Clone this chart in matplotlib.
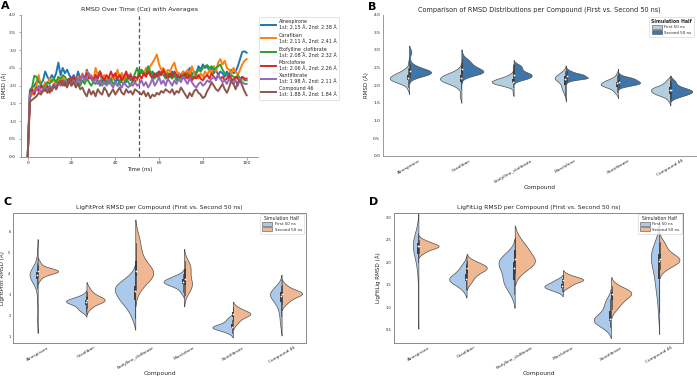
import numpy as np
import matplotlib
matplotlib.use("Agg")
import matplotlib.pyplot as plt
from matplotlib.patches import Patch

plt.rcParams["font.family"] = ["DejaVu Sans"]
plt.rcParams["text.color"] = "#262626"
plt.rcParams["axes.labelcolor"] = "#262626"
plt.rcParams["xtick.color"] = "#262626"
plt.rcParams["ytick.color"] = "#262626"

# ---------------- data ----------------
compounds = ["Alnespirone", "Carafiban", "Etofylline_clofibrate",
             "Morclofone", "Xantifibrate", "Compound 46"]
time_ns = list(range(0, 101))

rmsd_alnespirone = [
    0.0, 1.88, 1.95, 2.00, 2.10, 2.20, 2.05, 2.15, 2.40, 2.25, 2.15,
    2.30, 2.20, 2.35, 2.65, 2.30, 2.50, 2.35, 2.45, 2.30, 2.20,
    2.30, 2.15, 2.40, 2.20, 2.30, 2.15, 2.45, 2.25, 2.20, 2.10,
    2.30, 2.20, 2.40, 2.10, 2.20, 2.05, 2.25, 2.15, 2.30, 2.10,
    2.20, 2.05, 2.35, 2.20, 2.10, 2.30, 2.15, 2.25, 2.10, 2.20,
    2.45, 2.35, 2.40, 2.30, 2.45, 2.30, 2.40, 2.25, 2.35, 2.40,
    2.30, 2.45, 2.30, 2.35, 2.25, 2.40, 2.30, 2.20, 2.35, 2.30,
    2.40, 2.25, 2.35, 2.50, 2.30, 2.40, 2.35, 2.55, 2.45, 2.60,
    2.50, 2.55, 2.40, 2.50, 2.35, 2.45, 2.30, 2.40, 2.35, 2.25,
    2.40, 2.30, 2.45, 2.35, 2.40, 2.55, 2.75, 2.95, 2.97, 2.93]
rmsd_carafiban = [
    0.0, 1.65, 1.75, 1.90, 2.00, 2.30, 2.00, 1.95, 2.10, 2.05, 2.20,
    2.10, 2.15, 2.05, 2.20, 2.10, 2.25, 2.10, 2.00, 2.15, 2.05,
    2.20, 2.10, 2.25, 2.15, 2.35, 2.20, 2.40, 2.25, 2.30, 2.15,
    2.50, 2.30, 2.40, 2.20, 2.30, 2.15, 2.25, 2.10, 2.30, 2.20,
    2.45, 2.25, 2.35, 2.15, 2.30, 2.20, 2.35, 2.10, 2.25, 2.15,
    2.35, 2.45, 2.30, 2.50, 2.40, 2.55, 2.65, 2.75, 2.88, 2.60,
    2.45, 2.50, 2.35, 2.45, 2.40, 2.55, 2.65, 2.40, 2.35, 2.30,
    2.40, 2.35, 2.45, 2.30, 2.55, 2.35, 2.30, 2.20, 2.35, 2.25,
    2.40, 2.30, 2.45, 2.35, 2.55, 2.40, 2.65, 2.75, 2.60, 2.70,
    2.50, 2.45, 2.35, 2.50, 2.40, 2.30, 2.45, 2.60, 2.70, 2.75]
rmsd_etofylline = [
    0.0, 1.80, 1.95, 2.28, 2.25, 2.10, 2.05, 1.95, 2.00, 2.10, 2.05,
    2.15, 2.20, 2.10, 2.25, 2.20, 2.30, 2.25, 2.15, 2.20, 2.10,
    2.15, 2.05, 2.10, 2.00, 2.15, 2.05, 2.20, 2.10, 2.00, 2.10,
    2.05, 2.15, 2.00, 2.10, 2.05, 2.15, 2.05, 2.20, 2.05, 2.10,
    2.00, 2.15, 2.10, 2.05, 2.20, 2.10, 2.00, 2.15, 2.35, 2.50,
    2.30, 2.45, 2.35, 2.30, 2.55, 2.40, 2.30, 2.20, 2.35, 2.25,
    2.40, 2.30, 2.20, 2.35, 2.25, 2.20, 2.30, 2.15, 2.25, 2.20,
    2.30, 2.20, 2.35, 2.25, 2.30, 2.20, 2.35, 2.45, 2.40, 2.50,
    2.55, 2.58, 2.50, 2.55, 2.45, 2.50, 2.55, 2.60, 2.45, 2.35,
    2.30, 2.20, 2.30, 2.25, 2.20, 2.30, 2.20, 2.25, 2.15, 2.15]
rmsd_morclofone = [
    0.0, 1.70, 1.90, 1.75, 1.95, 1.85, 2.00, 1.90, 1.85, 2.00, 1.80,
    1.95, 2.05, 1.90, 2.10, 2.05, 2.15, 2.00, 2.10, 2.20, 2.15,
    2.25, 2.10, 2.20, 2.15, 2.30, 2.20, 2.35, 2.20, 2.25, 2.15,
    2.30, 2.20, 2.40, 2.25, 2.15, 2.30, 2.20, 2.40, 2.25, 2.35,
    2.20, 2.30, 2.15, 2.25, 2.40, 2.20, 2.30, 2.15, 2.25, 2.20,
    2.30, 2.20, 2.35, 2.25, 2.40, 2.30, 2.20, 2.35, 2.25, 2.40,
    2.30, 2.45, 2.30, 2.20, 2.35, 2.25, 2.40, 2.30, 2.20, 2.30,
    2.25, 2.35, 2.20, 2.30, 2.15, 2.25, 2.20, 2.30, 2.20, 2.15,
    2.25, 2.30, 2.20, 2.35, 2.25, 2.20, 2.30, 2.20, 2.25, 2.15,
    2.20, 2.30, 2.20, 2.15, 2.25, 2.20, 2.10, 2.25, 2.20, 2.20]
rmsd_xantifibrate = [
    0.0, 1.75, 1.80, 1.85, 1.90, 2.00, 1.80, 1.90, 1.95, 1.85, 2.00,
    1.90, 2.05, 1.95, 2.10, 2.00, 2.05, 2.15, 2.00, 2.10, 2.00,
    2.15, 2.05, 2.20, 2.10, 2.30, 2.15, 2.25, 2.35, 2.20, 2.10,
    2.20, 2.05, 2.15, 2.00, 2.10, 2.00, 2.15, 2.05, 1.95, 2.10,
    2.00, 2.05, 1.95, 2.10, 2.00, 1.95, 2.05, 2.00, 2.10, 2.00,
    2.05, 2.15, 2.00, 2.10, 1.95, 2.05, 2.20, 2.00, 2.10, 2.25,
    2.05, 2.15, 2.00, 2.20, 2.10, 2.00, 2.15, 2.05, 2.20, 2.10,
    2.25, 2.15, 2.05, 2.20, 2.10, 2.00, 1.95, 2.05, 2.10, 2.00,
    2.05, 2.15, 2.10, 2.20, 2.25, 2.15, 2.30, 2.20, 2.10, 2.15,
    2.05, 2.20, 2.10, 2.05, 2.15, 2.00, 2.20, 2.10, 2.05, 2.05]
rmsd_compound46 = [
    0.0, 1.55, 1.60, 1.65, 1.70, 1.80, 1.75, 1.85, 1.90, 1.80, 1.95,
    1.85, 2.00, 1.90, 2.05, 2.15, 2.00, 2.10, 1.95, 2.15, 2.00,
    2.10, 1.95, 2.05, 1.90, 1.95, 1.80, 1.70, 1.90, 1.75, 1.85,
    1.70, 1.90, 1.80, 1.75, 1.95, 1.85, 1.70, 1.80, 1.90, 1.75,
    1.85, 1.95, 1.80, 1.75, 1.90, 1.80, 1.85, 1.75, 1.90, 1.85,
    1.80, 1.75, 1.85, 1.70, 1.80, 1.65, 1.75, 1.70, 1.80, 1.75,
    1.85, 1.80, 1.90, 1.85, 1.80, 1.90, 1.75, 1.85, 1.80, 1.95,
    1.85, 1.75, 1.65, 1.80, 1.70, 1.85, 1.90, 1.80, 1.75, 1.65,
    1.70, 1.85, 1.95, 2.10, 2.00, 1.90, 1.85, 1.95, 2.05, 1.90,
    1.80, 1.95, 2.15, 2.05, 1.90, 2.10, 2.15, 2.00, 1.85, 1.73]
rmsd_series = [rmsd_alnespirone, rmsd_carafiban, rmsd_etofylline,
               rmsd_morclofone, rmsd_xantifibrate, rmsd_compound46]

first_means = [2.15, 2.11, 2.08, 2.06, 1.98, 1.88]
second_means = [2.38, 2.41, 2.32, 2.26, 2.11, 1.84]
split_time = 51
half_labels = ["First 50 ns", "Second 50 ns"]

ligfitprot_first = [
    [1.8, 2.7, 3.3, 3.5, 3.6, 3.7, 3.75, 3.8, 3.82, 3.85, 3.88, 3.9, 3.92,
     3.95, 3.97, 4.0, 4.02, 4.05, 4.08, 4.1, 4.15, 4.2, 4.3, 4.5, 5.0],
    [2.2, 2.3, 2.35, 2.45, 2.55, 2.6, 2.62, 2.65, 2.67, 2.7, 2.72, 2.75,
     2.8, 2.85, 2.95],
    [1.9, 2.2, 2.4, 2.55, 2.65, 2.75, 2.8, 2.85, 2.95, 3.05, 3.15, 3.2,
     3.25, 3.3, 3.35, 3.4, 3.45, 3.5, 3.6, 3.75, 3.9],
    [3.1, 3.3, 3.4, 3.45, 3.5, 3.55, 3.58, 3.6, 3.62, 3.65, 3.7, 3.75,
     3.8, 3.85, 3.95],
    [1.2, 1.3, 1.35, 1.4, 1.42, 1.44, 1.46, 1.48, 1.5, 1.55, 1.6, 1.7,
     1.8, 1.9],
    [1.6, 2.0, 2.3, 2.5, 2.65, 2.75, 2.85, 2.9, 2.95, 3.0, 3.02, 3.05,
     3.1, 3.15, 3.2, 3.3, 3.4]]
ligfitprot_second = [
    [3.7, 3.85, 3.9, 3.95, 4.0, 4.02, 4.05, 4.07, 4.08, 4.1, 4.1, 4.12,
     4.13, 4.15, 4.17, 4.2, 4.22, 4.25, 4.3, 4.4, 4.55],
    [2.35, 2.5, 2.6, 2.65, 2.7, 2.72, 2.74, 2.76, 2.8, 2.85, 2.9, 3.0,
     3.1, 3.3],
    [3.2, 3.5, 3.65, 3.75, 3.85, 3.9, 3.95, 4.0, 4.05, 4.1, 4.15, 4.25,
     4.35, 4.5, 4.7, 4.9, 5.2, 5.45, 5.8],
    [3.0, 3.2, 3.3, 3.4, 3.45, 3.5, 3.55, 3.65, 3.8, 3.95, 4.1, 4.2,
     4.3, 4.35, 4.45, 4.6],
    [1.6, 1.75, 1.85, 1.95, 2.0, 2.05, 2.08, 2.1, 2.12, 2.15, 2.2, 2.3,
     2.4],
    [2.55, 2.7, 2.8, 2.88, 2.95, 3.0, 3.02, 3.05, 3.08, 3.1, 3.15, 3.2,
     3.3, 3.45]]

ligfitlig_first = [
    [1.0, 1.7, 2.0, 2.15, 2.22, 2.28, 2.32, 2.35, 2.38, 2.4, 2.42, 2.45,
     2.5, 2.55, 2.65],
    [1.4, 1.5, 1.55, 1.58, 1.6, 1.62, 1.65, 1.68, 1.72, 1.78, 1.85, 1.95],
    [1.3, 1.45, 1.52, 1.58, 1.62, 1.7, 1.8, 1.88, 1.93, 1.97, 2.0, 2.03,
     2.07, 2.12, 2.2],
    [1.35, 1.4, 1.42, 1.44, 1.46, 1.48, 1.5, 1.53, 1.57, 1.62],
    [0.55, 0.62, 0.66, 0.69, 0.71, 0.73, 0.76, 0.8, 0.88, 0.98, 1.08, 1.18],
    [0.9, 1.3, 1.45, 1.55, 1.7, 1.85, 1.95, 2.02, 2.08, 2.12, 2.16, 2.2,
     2.25, 2.32, 2.42]]
ligfitlig_second = [
    [2.2, 2.26, 2.3, 2.32, 2.34, 2.35, 2.36, 2.38, 2.4, 2.42, 2.45, 2.5],
    [1.55, 1.65, 1.72, 1.78, 1.82, 1.85, 1.87, 1.88, 1.9, 1.93, 1.97, 2.02],
    [1.75, 1.85, 1.92, 1.97, 2.0, 2.02, 2.05, 2.08, 2.15, 2.22, 2.28, 2.33,
     2.4, 2.55],
    [1.45, 1.5, 1.55, 1.58, 1.6, 1.61, 1.62, 1.64, 1.67, 1.72],
    [0.95, 1.05, 1.12, 1.17, 1.22, 1.27, 1.3, 1.32, 1.34, 1.36, 1.4, 1.48],
    [1.85, 1.92, 1.97, 2.0, 2.03, 2.05, 2.07, 2.1, 2.13, 2.18, 2.25, 2.35,
     2.45]]

# ---------------- styles ----------------
line_colors = ["#1f77b4", "#ff7f0e", "#2ca02c", "#d62728", "#9467bd", "#8c564b"]
blues_pair = ["#b2cedf", "#3f76a9"]
pastel_pair = ["#abc9ea", "#efb792"]
spine_c = "#8a8a8a"

W, H = 697, 378
fig = plt.figure(figsize=(W / 100, H / 100), dpi=100)


def px_axes(l, t, r, b):
    return fig.add_axes([l / W, 1 - b / H, (r - l) / W, (b - t) / H])


def kde_curve(samples, cut=2.0, gridsize=120):
    s = np.asarray(samples, float)
    bw = s.std(ddof=1) * len(s) ** (-0.2)
    y = np.linspace(s.min() - cut * bw, s.max() + cut * bw, gridsize)
    d = np.exp(-0.5 * ((y[:, None] - s[None, :]) / bw) ** 2).sum(1)
    d /= len(s) * bw * np.sqrt(2 * np.pi)
    return y, d


def split_violins(ax, firsts, seconds, colors, maxw=0.42, tick_fs=3.1):
    for i, (f, s2) in enumerate(zip(firsts, seconds)):
        pair = [kde_curve(f), kde_curve(s2)]
        gmax = max(d.max() for _, d in pair)
        for h, (y, d) in enumerate(pair):
            sign = -1 if h == 0 else 1
            w = d / gmax * maxw
            ax.fill_betweenx(y, i, i + sign * w, facecolor=colors[h],
                             edgecolor="#505050", linewidth=0.5, zorder=2)
            s = np.asarray([f, s2][h], float)
            q1, med, q3 = np.percentile(s, [25, 50, 75])
            iqr = q3 - q1
            lo = s[s >= q1 - 1.5 * iqr].min()
            hi = s[s <= q3 + 1.5 * iqr].max()
            xo = i + sign * 0.012
            ax.plot([xo, xo], [lo, hi], color="#3c3c3c", lw=0.5, zorder=3)
            ax.plot([xo, xo], [q1, q3], color="#3c3c3c", lw=1.4,
                    solid_capstyle="butt", zorder=3)
            ax.plot([xo], [med], "o", ms=1.3, mfc="white", mec="none", zorder=4)
    ax.set_xlim(-0.5, len(firsts) - 0.5)
    ax.set_xticks(range(len(compounds)))
    ax.set_xticklabels(compounds, rotation=30, fontsize=tick_fs)


def half_legend(ax, colors, anchor_px, bold_title=False, fs=2.9):
    handles = [Patch(facecolor=c, edgecolor="#505050", linewidth=0.4) for c in colors]
    leg = ax.legend(handles, half_labels, title="Simulation Half",
                    loc="upper right",
                    bbox_to_anchor=(anchor_px[0] / W, 1 - anchor_px[1] / H),
                    bbox_transform=fig.transFigure, borderaxespad=0,
                    fontsize=fs, title_fontsize=3.3, frameon=True,
                    handlelength=2.6, handleheight=0.9, borderpad=0.5,
                    labelspacing=0.3, handletextpad=0.6)
    leg.get_frame().set_edgecolor("#d0d0d0")
    leg.get_frame().set_linewidth(0.5)
    if bold_title:
        leg.get_title().set_fontweight("bold")


# ---------------- Panel A ----------------
axA = px_axes(20.7, 14.7, 258, 156.7)
for name, vals, col, m1, m2 in zip(compounds, rmsd_series, line_colors,
                                   first_means, second_means):
    axA.plot(time_ns, vals, color=col, lw=1.4,
             label=f"{name}\n1st: {m1:.2f} Å, 2nd: {m2:.2f} Å")
axA.axvline(split_time, color="#555555", ls="--", lw=0.9, dashes=(3, 2))
axA.set_xlim(-3.2, 105.2)
axA.set_ylim(0, 4)
axA.set_xticks([0, 20, 40, 60, 80, 100])
axA.set_yticks(np.arange(0, 4.01, 0.5))
axA.set_yticklabels([f"{v:.1f}" for v in np.arange(0, 4.01, 0.5)])
axA.tick_params(labelsize=3.2, length=1.8, width=0.5, color=spine_c, pad=1.5)
for sp in ["top", "right"]:
    axA.spines[sp].set_visible(False)
for sp in ["left", "bottom"]:
    axA.spines[sp].set_color(spine_c)
    axA.spines[sp].set_linewidth(0.6)
axA.set_title("RMSD Over Time (Cα) with Averages", fontsize=4.6, pad=2.5)
axA.set_xlabel("Time (ns)", fontsize=3.9, labelpad=1.5)
axA.set_ylabel("RMSD (Å)", fontsize=3.9, labelpad=1.5)
legA = axA.legend(loc="upper left", bbox_to_anchor=(259 / W, 1 - 17 / H),
                  bbox_transform=fig.transFigure, borderaxespad=0,
                  fontsize=3.5, handlelength=2.9, labelspacing=0.5,
                  borderpad=0.5, handletextpad=0.7)
legA.get_frame().set_edgecolor("#d0d0d0")
legA.get_frame().set_linewidth(0.5)

# ---------------- Panel B ----------------
axB = px_axes(383, 14.7, 696.5, 155.7)
firstB = [v[1:split_time] for v in rmsd_series]
secondB = [v[split_time:] for v in rmsd_series]
split_violins(axB, firstB, secondB, blues_pair, maxw=0.42, tick_fs=3.4)
axB.set_ylim(0, 4)
axB.set_yticks(np.arange(0, 4.01, 0.5))
axB.set_yticklabels([f"{v:.1f}" for v in np.arange(0, 4.01, 0.5)])
axB.tick_params(labelsize=3.2, length=0, pad=2)
axB.spines["top"].set_visible(False)
for sp in ["left", "bottom", "right"]:
    axB.spines[sp].set_color(spine_c)
    axB.spines[sp].set_linewidth(0.6)
axB.set_title("Comparison of RMSD Distributions per Compound (First vs. Second 50 ns)",
              fontsize=4.7, pad=2.5)
axB.set_xlabel("Compound", fontsize=4.2)
axB.xaxis.set_label_coords(0.5, -(185.5 - 155.7) / 141)
axB.set_ylabel("RMSD (Å)", fontsize=4.0, labelpad=3)
half_legend(axB, blues_pair, (694, 17), bold_title=True)

# ---------------- Panel C ----------------
axC = px_axes(13.3, 212.7, 306, 342.7)
split_violins(axC, ligfitprot_first, ligfitprot_second, pastel_pair, maxw=0.42)
axC.set_ylim(0.72, 6.87)
axC.set_yticks([1, 2, 3, 4, 5, 6])
axC.tick_params(axis="y", labelsize=2.6, length=0, pad=2)
axC.tick_params(axis="x", length=0, pad=2)
for sp in axC.spines.values():
    sp.set_color(spine_c)
    sp.set_linewidth(0.7)
axC.set_title("LigFitProt RMSD per Compound (First vs. Second 50 ns)",
              fontsize=4.3, pad=2.5)
axC.set_xlabel("Compound", fontsize=4.3)
axC.xaxis.set_label_coords(0.5, -(371.5 - 342.7) / 130)
axC.set_ylabel("LigFitProt RMSD (Å)", fontsize=4.1, labelpad=2)
half_legend(axC, pastel_pair, (304, 214))

# ---------------- Panel D ----------------
axD = px_axes(394.3, 212.7, 683.3, 342.7)
split_violins(axD, ligfitlig_first, ligfitlig_second, pastel_pair, maxw=0.42)
axD.set_ylim(0.21, 3.10)
axD.set_yticks([0.5, 1.0, 1.5, 2.0, 2.5, 3.0])
axD.tick_params(axis="y", labelsize=2.6, length=0, pad=2)
axD.tick_params(axis="x", length=0, pad=2)
for sp in axD.spines.values():
    sp.set_color(spine_c)
    sp.set_linewidth(0.7)
axD.set_title("LigFitLig RMSD per Compound (First vs. Second 50 ns)",
              fontsize=4.3, pad=2.5)
axD.set_xlabel("Compound", fontsize=4.3)
axD.xaxis.set_label_coords(0.5, -(371.5 - 342.7) / 130)
axD.set_ylabel("LigFitLig RMSD (Å)", fontsize=4.1, labelpad=3)
half_legend(axD, pastel_pair, (681.7, 214))

# ---------------- panel letters ----------------
for letter, (x, y) in zip("ABCD", [(1, 1), (368, 2), (3, 197), (369, 197)]):
    fig.text(x / W, 1 - y / H, letter, fontsize=8, fontweight="bold",
             va="top", ha="left", color="black")

fig.savefig("out.png", dpi=100)
